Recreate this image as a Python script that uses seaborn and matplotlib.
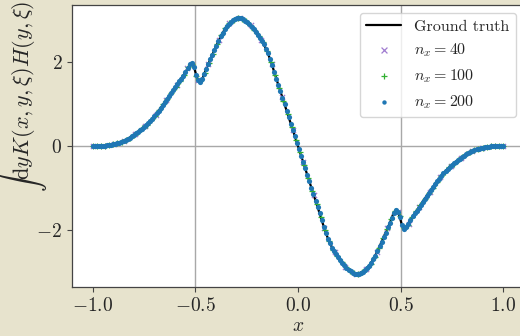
import numpy as np
import matplotlib
matplotlib.use("Agg")
import matplotlib.pyplot as plt
import seaborn as sns

# ==========================================
# DATA
# ==========================================

# ground truth curve, knots
x_truth = [-1.0, -0.95, -0.9, -0.875, -0.85, -0.825, -0.8, -0.775, -0.75, -0.725,
           -0.7, -0.675, -0.65, -0.625, -0.6, -0.575, -0.55, -0.525, -0.515, -0.505,
           -0.495, -0.485, -0.475, -0.465, -0.45, -0.425, -0.4, -0.375, -0.35, -0.325,
           -0.3, -0.275, -0.25, -0.225, -0.2, -0.175, -0.15, -0.125, -0.1, -0.075,
           -0.05, -0.025, 0.0, 0.025, 0.05, 0.075, 0.1, 0.125, 0.15, 0.175,
           0.2, 0.225, 0.25, 0.275, 0.3, 0.325, 0.35, 0.375, 0.4, 0.425,
           0.45, 0.465, 0.475, 0.485, 0.495, 0.505, 0.515, 0.525, 0.55, 0.575,
           0.6, 0.625, 0.65, 0.675, 0.7, 0.725, 0.75, 0.775, 0.8, 0.825,
           0.85, 0.875, 0.9, 0.95, 1.0]
y_truth = [0.00, 0.01, 0.04, 0.07, 0.12, 0.18, 0.26, 0.35, 0.45, 0.56,
           0.70, 0.86, 1.03, 1.20, 1.38, 1.56, 1.74, 1.95, 1.96, 1.86,
           1.68, 1.55, 1.53, 1.60, 1.80, 2.08, 2.36, 2.62, 2.83, 2.96,
           3.03, 3.04, 2.96, 2.84, 2.68, 2.50, 2.26, 1.91, 1.52, 1.14,
           0.76, 0.38, 0.00, -0.38, -0.76, -1.14, -1.52, -1.91, -2.26, -2.50,
           -2.68, -2.84, -2.96, -3.04, -3.03, -2.96, -2.83, -2.62, -2.36, -2.08,
           -1.80, -1.60, -1.53, -1.55, -1.68, -1.86, -1.96, -1.95, -1.74, -1.56,
           -1.38, -1.20, -1.03, -0.86, -0.70, -0.56, -0.45, -0.35, -0.26, -0.18,
           -0.12, -0.07, -0.04, -0.01, 0.00]

# n_x = 40 samples
y_40 = [0.00, 0.01, 0.04, 0.13, 0.28, 0.48, 0.74, 1.09, 1.46, 1.85,
        1.57, 1.95, 2.52, 2.92, 3.05, 2.87, 2.53, 1.96, 1.17, 0.39,
        -0.39, -1.17, -1.96, -2.53, -2.87, -3.05, -2.92, -2.52, -1.95, -1.57,
        -1.85, -1.46, -1.09, -0.74, -0.48, -0.28, -0.13, -0.04, -0.01, 0.00]

# n_x = 100 samples
y_100 = [0.00, 0.00, 0.01, 0.01, 0.02, 0.04, 0.07, 0.10, 0.14, 0.20,
         0.26, 0.34, 0.42, 0.50, 0.61, 0.72, 0.85, 0.99, 1.12, 1.27,
         1.41, 1.55, 1.69, 1.87, 1.96, 1.67, 1.54, 1.74, 1.97, 2.20,
         2.43, 2.64, 2.81, 2.92, 3.00, 3.05, 3.03, 2.97, 2.88, 2.76,
         2.62, 2.47, 2.27, 2.00, 1.68, 1.39, 1.08, 0.77, 0.46, 0.15,
         -0.15, -0.46, -0.77, -1.08, -1.39, -1.68, -2.00, -2.27, -2.47, -2.62,
         -2.76, -2.88, -2.97, -3.03, -3.05, -3.00, -2.92, -2.81, -2.64, -2.43,
         -2.20, -1.97, -1.74, -1.54, -1.67, -1.96, -1.87, -1.69, -1.55, -1.41,
         -1.27, -1.12, -0.99, -0.85, -0.72, -0.61, -0.50, -0.42, -0.34, -0.26,
         -0.20, -0.14, -0.10, -0.07, -0.04, -0.02, -0.01, -0.01, 0.00, 0.00]

# n_x = 200 samples
y_200 = [0.00, 0.00, 0.00, 0.00, 0.01, 0.01, 0.01, 0.02, 0.02, 0.03,
         0.04, 0.05, 0.07, 0.08, 0.10, 0.12, 0.14, 0.17, 0.20, 0.23,
         0.26, 0.30, 0.33, 0.37, 0.41, 0.45, 0.50, 0.54, 0.60, 0.65,
         0.71, 0.78, 0.84, 0.91, 0.98, 1.04, 1.11, 1.18, 1.25, 1.33,
         1.40, 1.47, 1.54, 1.60, 1.67, 1.76, 1.85, 1.94, 1.97, 1.88,
         1.70, 1.57, 1.53, 1.59, 1.71, 1.83, 1.94, 2.06, 2.17, 2.28,
         2.39, 2.50, 2.61, 2.70, 2.78, 2.85, 2.90, 2.95, 2.99, 3.02,
         3.04, 3.05, 3.04, 3.02, 2.98, 2.95, 2.90, 2.84, 2.78, 2.72,
         2.65, 2.58, 2.51, 2.42, 2.32, 2.21, 2.07, 1.92, 1.76, 1.60,
         1.45, 1.30, 1.15, 0.99, 0.84, 0.69, 0.53, 0.38, 0.23, 0.08,
         -0.08, -0.23, -0.38, -0.53, -0.69, -0.84, -0.99, -1.15, -1.30, -1.45,
         -1.60, -1.76, -1.92, -2.07, -2.21, -2.32, -2.42, -2.51, -2.58, -2.65,
         -2.72, -2.78, -2.84, -2.90, -2.95, -2.98, -3.02, -3.04, -3.05, -3.04,
         -3.02, -2.99, -2.95, -2.90, -2.85, -2.78, -2.70, -2.61, -2.50, -2.39,
         -2.28, -2.17, -2.06, -1.94, -1.83, -1.71, -1.59, -1.53, -1.57, -1.70,
         -1.88, -1.97, -1.94, -1.85, -1.76, -1.67, -1.60, -1.54, -1.47, -1.40,
         -1.33, -1.25, -1.18, -1.11, -1.04, -0.98, -0.91, -0.84, -0.78, -0.71,
         -0.65, -0.60, -0.54, -0.50, -0.45, -0.41, -0.37, -0.33, -0.30, -0.26,
         -0.23, -0.20, -0.17, -0.14, -0.12, -0.10, -0.08, -0.07, -0.05, -0.04,
         -0.03, -0.02, -0.02, -0.01, -0.01, -0.01, 0.00, 0.00, 0.00, 0.00]

# sample grids on [-1, 1]
x_40 = np.linspace(-1, 1, len(y_40))
x_100 = np.linspace(-1, 1, len(y_100))
x_200 = np.linspace(-1, 1, len(y_200))

xticks = [-1.0, -0.5, 0.0, 0.5, 1.0]
yticks = [-2, 0, 2]

# ==========================================
# STYLE
# ==========================================

sns.set_style("ticks")
plt.rcParams["font.family"] = "serif"
plt.rcParams["font.serif"] = ["cmr10", "DejaVu Serif"]
plt.rcParams["mathtext.fontset"] = "cm"
plt.rcParams["axes.formatter.use_mathtext"] = True
plt.rcParams["axes.unicode_minus"] = True

bg = "#e7e3cd"

fig = plt.figure(figsize=(5.2, 3.36), dpi=100, facecolor=bg)
ax = fig.add_axes([0.1385, 0.146, 0.869, 0.839])
ax.set_facecolor("white")

ax.axvline(-0.5, color="#a8a8a8", lw=1.0, zorder=0)
ax.axvline(0.5, color="#a8a8a8", lw=1.0, zorder=0)
ax.axhline(0.0, color="#a8a8a8", lw=1.0, zorder=0)

sns.lineplot(x=x_truth, y=y_truth, color="black", lw=1.6, ax=ax,
             label="Ground truth", zorder=2)
sns.scatterplot(x=x_40, y=y_40, marker="x", color="#a07cd0", s=14,
                linewidth=0.9, ax=ax, label=r"$n_x = 40$", zorder=3)
sns.scatterplot(x=x_100, y=y_100, marker="+", color="#33b033", s=16,
                linewidth=0.9, ax=ax, label=r"$n_x = 100$", zorder=4)
sns.scatterplot(x=x_200, y=y_200, marker="o", color="#1f77b4", s=14,
                linewidth=0, ax=ax, label=r"$n_x = 200$", zorder=5)

ax.set_xlim(-1.1, 1.1)
ax.set_ylim(-3.355, 3.355)
ax.set_xticks(xticks)
ax.set_yticks(yticks)
ax.tick_params(labelsize=14, length=3.5, width=0.8, color="#444444")
for sp in ax.spines.values():
    sp.set_color("#444444")
    sp.set_linewidth(0.9)

ax.set_xlabel(r"$x$", fontsize=14, labelpad=2)
ax.set_ylabel(r"$\int \mathrm{d}y K(x, y, \xi) H(y, \xi)$", fontsize=16)
ax.yaxis.set_label_coords(-0.051, 0.675)

leg = ax.legend(loc="upper right", fontsize=11.5, frameon=True, fancybox=True,
                framealpha=0.8, edgecolor="#cccccc", handlelength=2.2)
leg.legend_handles[1].set_sizes([18])
leg.legend_handles[2].set_sizes([20])
leg.legend_handles[3].set_sizes([10])

fig.savefig("out.png", dpi=100, facecolor=bg)
